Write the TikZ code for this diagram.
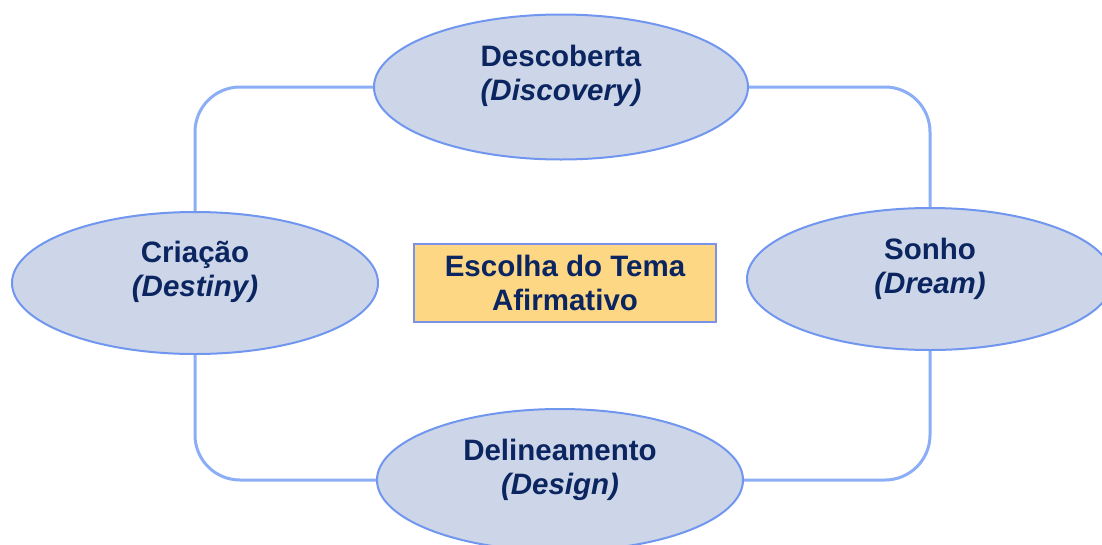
\documentclass[tikz,border=0pt]{standalone}
\usepackage{fontspec}
\setmainfont{Liberation Sans}
\usetikzlibrary{shapes.geometric}
\definecolor{ellfill}{HTML}{CDD6E8}
\definecolor{ellline}{HTML}{7096F0}
\definecolor{connline}{HTML}{8CAEF6}
\definecolor{boxfill}{HTML}{FDD784}
\definecolor{boxline}{HTML}{7A92E8}
\definecolor{txtcol}{HTML}{0B2560}
\tikzset{
  ell/.style={ellipse, draw=ellline, line width=2pt, fill=ellfill, inner sep=0pt},
  lbl/.style={align=center, text=txtcol, font=\fontsize{29.5}{34}\selectfont\bfseries, inner sep=0pt},
  conn/.style={draw=connline, line width=3pt, rounded corners=45pt},
  themebox/.style={rectangle, draw=boxline, line width=2.5pt, fill=boxfill, minimum width=302pt, minimum height=78pt, inner sep=0pt, align=center, text=txtcol, font=\fontsize{29.5}{34}\selectfont\bfseries}
}
\begin{document}
\begin{tikzpicture}[x=1pt,y=-1pt]
\useasboundingbox (0,0) rectangle (1102,544);
\clip (0,0) rectangle (1102,544);
\node[ell, minimum width=374pt, minimum height=145pt] (top) at (561,87) {};
\node[ell, minimum width=366pt, minimum height=142pt] (left) at (195,283) {};
\node[ell, minimum width=366pt, minimum height=142pt] (right) at (930,279) {};
\node[ell, minimum width=366pt, minimum height=142pt] (bottom) at (560,480) {};
\draw[conn] (top.west) -| (left.north);
\draw[conn] (top.east) -| (right.north);
\draw[conn] (left.south) |- (bottom.west);
\draw[conn] (bottom.east) -| (right.south);
\node[lbl] (ttop) at (561,76) {Descoberta\\\itshape(Discovery)};
\node[lbl] (tleft) at (195,272) {Criação\\\itshape(Destiny)};
\node[lbl] (tright) at (930,269) {Sonho\\\itshape(Dream)};
\node[lbl] (tbottom) at (560,470) {Delineamento\\\itshape(Design)};
\node[themebox] (center) at (565,283) {Escolha do Tema\\Afirmativo};
\end{tikzpicture}
\end{document}
